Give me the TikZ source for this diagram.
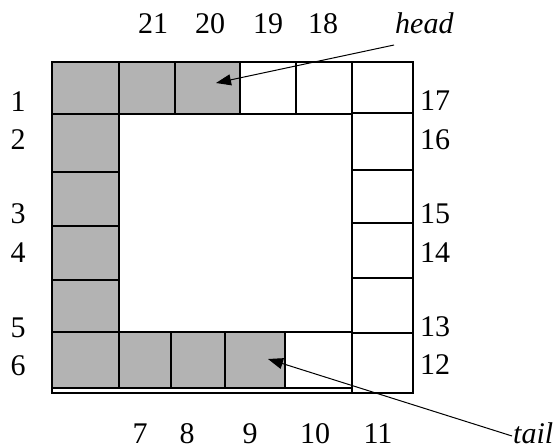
\documentclass[tikz,border=0pt]{standalone}
\usepackage{fontspec}
\setmainfont{Liberation Serif}
\usetikzlibrary{arrows.meta}
\definecolor{cellgray}{RGB}{179,179,179}
\tikzset{
  cell/.style={draw=black, line width=1.3pt},
  graycell/.style={cell, fill=cellgray},
  lbl/.style={inner sep=0pt, anchor=base, font=\fontsize{30}{30}\selectfont},
  ilbl/.style={inner sep=0pt, anchor=base west, font=\fontsize{30}{30}\selectfont\itshape},
  pointer/.style={line width=1pt, -{Triangle[length=15pt,width=11pt]}}
}
\begin{document}
\begin{tikzpicture}[x=1pt,y=-1pt]
\useasboundingbox (0,0) rectangle (560,447);
% top row
\draw[graycell] (52,62) rectangle (119,114);
\draw[graycell] (119,62) rectangle (175,114);
\draw[graycell] (175,62) rectangle (240,114);
\draw[cell] (240,62) rectangle (296,114);
\draw[cell] (296,62) rectangle (352,114);
\draw[cell] (352,62) rectangle (413,113);
% left column
\draw[graycell] (52,114) rectangle (119,172);
\draw[graycell] (52,172) rectangle (119,226);
\draw[graycell] (52,226) rectangle (119,280);
\draw[graycell] (52,280) rectangle (119,332);
\draw[graycell] (52,332) rectangle (119,388);
% bottom row
\draw[graycell] (119,332) rectangle (171,388);
\draw[graycell] (171,332) rectangle (225,388);
\draw[graycell] (225,332) rectangle (285,388);
\draw[cell] (285,332) rectangle (352,388);
% right column
\draw[cell] (352,113) rectangle (413,170);
\draw[cell] (352,170) rectangle (413,223);
\draw[cell] (352,223) rectangle (413,278);
\draw[cell] (352,278) rectangle (413,333);
\draw[cell] (352,333) rectangle (413,393);
% bottom double line
\draw[cell] (52,388) -- (52,393) -- (413,393);
% labels
\node[lbl] (n21) at (153,34) {21};
\node[lbl] (n20) at (210,34) {20};
\node[lbl] (n19) at (268,34) {19};
\node[lbl] (n18) at (323,34) {18};
\node[ilbl] (head) at (395,34) {head};
\node[lbl] (n1) at (18,111) {1};
\node[lbl] (n2) at (18,149) {2};
\node[lbl] (n3) at (18,223) {3};
\node[lbl] (n4) at (18,262) {4};
\node[lbl] (n5) at (18,337) {5};
\node[lbl] (n6) at (18,375) {6};
\node[lbl] (n17) at (435,110) {17};
\node[lbl] (n16) at (435,149) {16};
\node[lbl] (n15) at (435,223) {15};
\node[lbl] (n14) at (435,262) {14};
\node[lbl] (n13) at (435,336) {13};
\node[lbl] (n12) at (435,374) {12};
\node[lbl] (n7) at (140,443) {7};
\node[lbl] (n8) at (187,443) {8};
\node[lbl] (n9) at (250,443) {9};
\node[lbl] (n10) at (315,443) {10};
\node[lbl] (n11) at (378,443) {11};
\node[ilbl] (tail) at (513,443) {tail};
% arrows
\coordinate (headtip) at (216,83);
\coordinate (tailtip) at (268,359);
\draw[pointer] ([xshift=-1pt,yshift=-11pt]head.base west) -- (headtip);
\draw[pointer] ([xshift=-1pt,yshift=7pt]tail.base west) -- (tailtip);
\end{tikzpicture}
\end{document}
